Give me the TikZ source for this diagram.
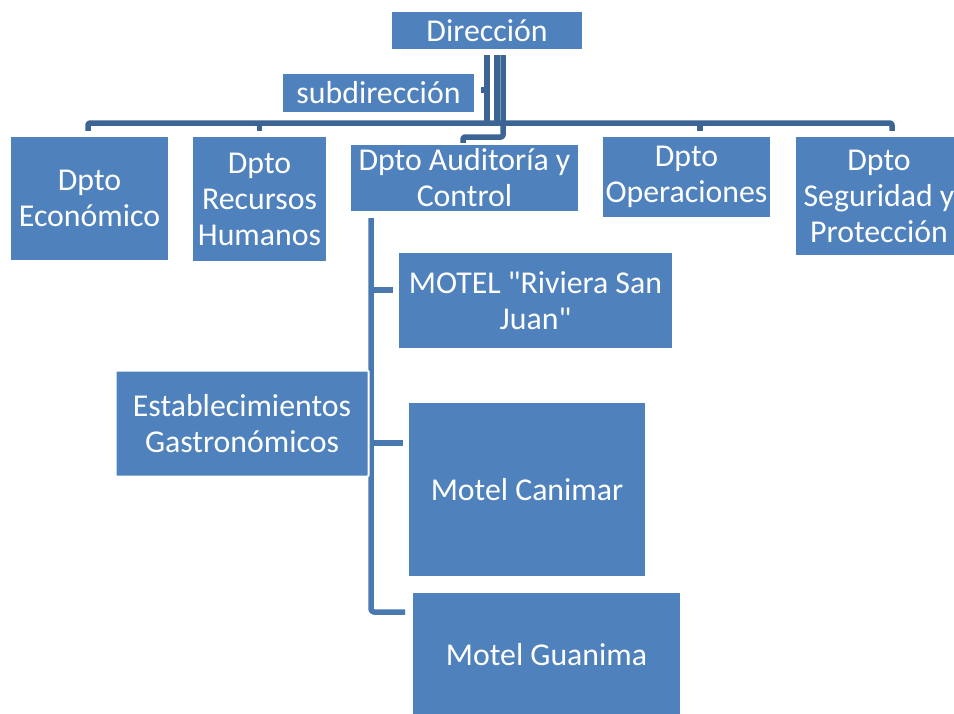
\documentclass[tikz,border=0pt]{standalone}
\usepackage{fontspec}
\setmainfont{Carlito}
\begin{document}
\begin{tikzpicture}[x=1pt,y=-1pt,line cap=butt,line join=round]
\definecolor{boxc}{HTML}{4F81BD}
\definecolor{topc}{HTML}{3C6494}
\definecolor{lowc}{HTML}{4A78B0}

\tikzset{
orgbox/.style={fill=boxc, text=white, inner sep=0pt, align=center, font=\fontsize{31.8}{36}\selectfont},
toplink/.style={draw=topc, line width=5.5pt, rounded corners=2pt},
lowlink/.style={draw=lowc, line width=5.5pt, rounded corners=3pt}
}

\useasboundingbox (0,0) rectangle (954,713);

\node[orgbox, minimum width=190pt, minimum height=37pt] (dir) at (487,30.5) {Dirección};
\node[orgbox, minimum width=191pt, minimum height=38pt] (sub) at (378.5,93) {subdirección};

\node[orgbox, minimum width=157pt, minimum height=123pt] (eco) at (89.5,198.5) {Dpto\\Económico};
\node[orgbox, minimum width=133pt, minimum height=124pt] (rrhh) at (259.5,199) {Dpto\\Recursos\\Humanos};
\node[orgbox, minimum width=227pt, minimum height=66pt] (aud) at (464.5,178) {Dpto Auditoría y\\Control};
\node[orgbox, minimum width=167pt, minimum height=80pt] (ope) at (686.5,177) {Dpto\\Operaciones};
\node[orgbox, minimum width=166pt, minimum height=118pt] (seg) at (879,196) {Dpto\\Seguridad y\\Protección};

\coordinate (bar) at (487,123);
\coordinate (elb) at (463,137);
\coordinate (trunk) at (371,218);
\coordinate (bRiv) at (393,290);
\coordinate (bCan) at (403,443);
\coordinate (bGua) at (405,612);

\draw[toplink] ([yshift=-6pt]dir.south) -- (dir.south |- bar);
\draw[toplink, rounded corners=0pt] (dir.south |- sub.east) ++(0,-3) -- ++(-6,0);
\draw[toplink] ([xshift=10pt,yshift=-6pt]dir.south) -- ([xshift=10pt]dir.south |- bar);
\draw[toplink] ([xshift=16pt,yshift=-6pt]dir.south) |- (elb) -- ([yshift=2pt]elb |- aud.north);
\draw[toplink] ([xshift=-1.5pt,yshift=6pt]eco.north) |- (bar) -| ([xshift=13pt,yshift=6pt]seg.north);
\draw[toplink] ([yshift=6pt]rrhh.north) -- (rrhh.north |- bar);
\draw[toplink] ([xshift=13.5pt,yshift=6pt]ope.north) -- ([xshift=13.5pt]ope.north |- bar);

\draw[lowlink] (trunk) |- (bGua);
\draw[lowlink] (trunk |- bRiv) -- (bRiv);
\draw[lowlink] (trunk |- bCan) -- (bCan);

\node[orgbox, minimum width=273pt, minimum height=95pt] (riv) at (535.5,300.5) {MOTEL \textquotedbl Riviera San\\Juan\textquotedbl};
\node[orgbox, draw=white, line width=2pt, rounded corners=1pt, minimum width=253pt, minimum height=106pt] (est) at (242,423.5) {Establecimientos\\Gastronómicos};
\node[orgbox, minimum width=236pt, minimum height=173pt] (can) at (527,489.5) {Motel Canimar};
\node[orgbox, minimum width=267pt, minimum height=124pt] (gua) at (546.5,655) {Motel Guanima};
\end{tikzpicture}
\end{document}
